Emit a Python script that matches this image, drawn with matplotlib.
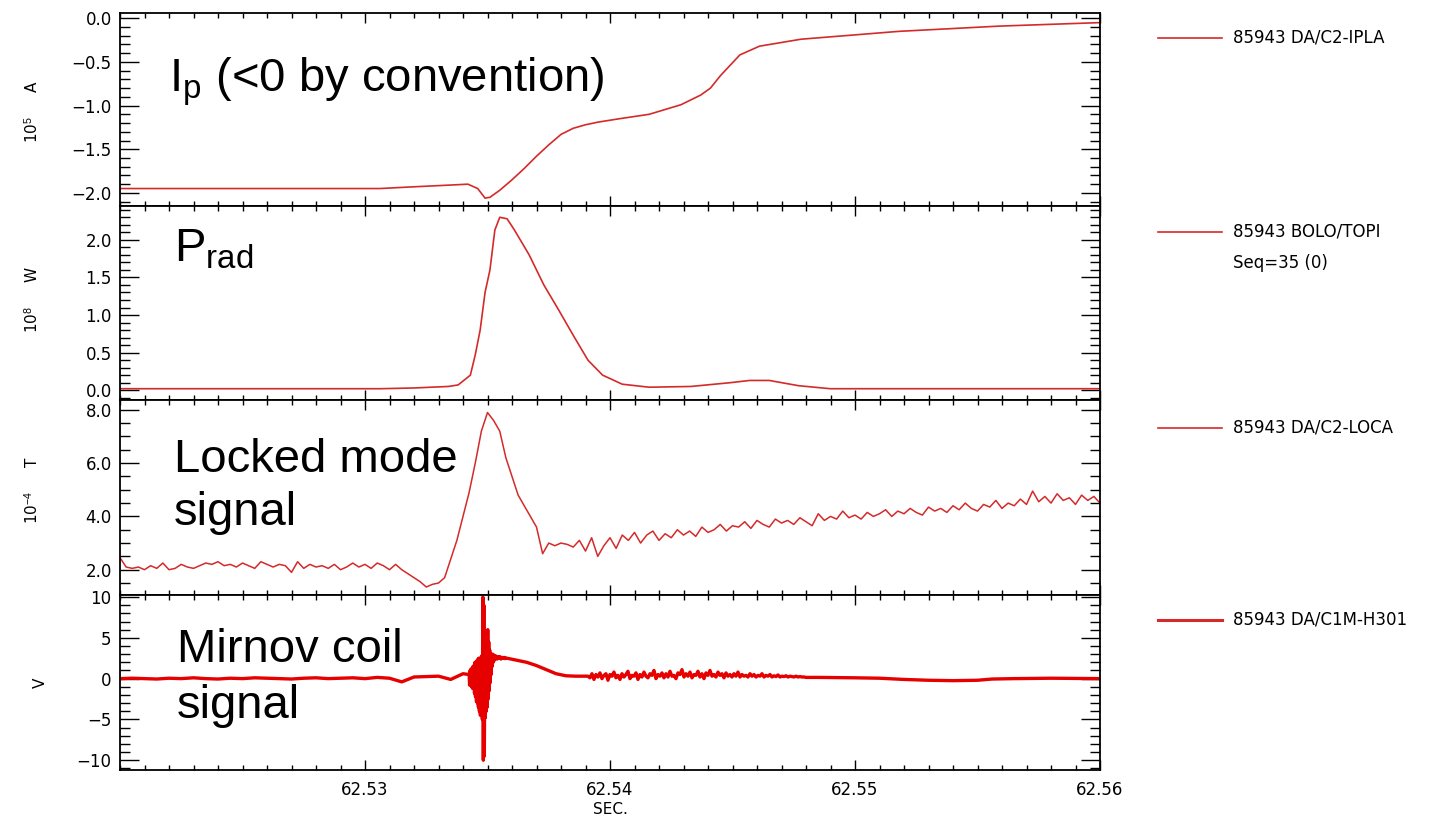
import numpy as np
import matplotlib.pyplot as plt
from matplotlib.ticker import MultipleLocator, FuncFormatter
from matplotlib.lines import Line2D

plt.rcParams['mathtext.fontset'] = 'custom'
plt.rcParams['mathtext.rm'] = 'Liberation Sans'
plt.rcParams['mathtext.it'] = 'Liberation Sans:italic'

W, H = 1435, 815

# ---- data ----
# plasma current, 10^5 A
ip_t = [62.5200, 62.5306, 62.5320, 62.5335, 62.5342, 62.5346, 62.5349, 62.5351,
        62.5355, 62.5360, 62.5365, 62.5370, 62.5375, 62.5380, 62.5385, 62.5390,
        62.5395, 62.5404, 62.5416, 62.5429, 62.5437, 62.5441, 62.5445, 62.5453,
        62.5461, 62.5478, 62.5518, 62.5559, 62.5600]
ip_v = [-1.95, -1.95, -1.93, -1.91, -1.90, -1.95, -2.06, -2.05,
        -1.97, -1.85, -1.72, -1.58, -1.45, -1.33, -1.26, -1.22,
        -1.19, -1.15, -1.10, -0.99, -0.88, -0.80, -0.66, -0.42,
        -0.32, -0.24, -0.15, -0.09, -0.05]

# radiated power, 10^8 W
prad_t = [62.5200, 62.5306, 62.5320, 62.5334, 62.5338, 62.5343, 62.5345, 62.5347,
          62.5349, 62.5351, 62.5353, 62.5355, 62.5358, 62.5361, 62.5367, 62.5373,
          62.5379, 62.5385, 62.5391, 62.5397, 62.5405, 62.5416, 62.5433, 62.5449,
          62.5457, 62.5465, 62.5477, 62.5490, 62.5600]
prad_v = [0.02, 0.02, 0.03, 0.05, 0.07, 0.2, 0.47, 0.8,
          1.3, 1.6, 2.13, 2.30, 2.28, 2.13, 1.8, 1.4,
          1.07, 0.73, 0.4, 0.2, 0.08, 0.04, 0.05, 0.1,
          0.13, 0.13, 0.06, 0.02, 0.02]

# locked mode signal, 10^-4 T (161 samples, 62.52 .. 62.56)
lm_v = [2.45, 2.1, 2.05, 2.1, 2.0, 2.15, 2.05, 2.25, 2.0, 2.05,
        2.2, 2.1, 2.05, 2.15, 2.25, 2.2, 2.3, 2.15, 2.2, 2.1,
        2.25, 2.15, 2.05, 2.3, 2.2, 2.1, 2.2, 2.15, 1.9, 2.3,
        2.05, 2.2, 2.1, 2.15, 2.05, 2.2, 2.0, 2.1, 2.25, 2.1,
        2.2, 2.05, 2.25, 2.15, 2.0, 2.2, 2.0, 1.85, 1.7, 1.55,
        1.35, 1.45, 1.5, 1.7, 2.4, 3.1, 4.0, 4.9, 6.0, 7.2,
        7.9, 7.6, 7.2, 6.2, 5.5, 4.8, 4.4, 4.0, 3.6, 2.6,
        3.0, 2.9, 3.0, 2.95, 2.85, 3.1, 2.7, 3.2, 2.5, 2.9,
        3.2, 2.8, 3.3, 3.1, 3.4, 3.0, 3.3, 3.45, 3.1, 3.35,
        3.2, 3.5, 3.3, 3.45, 3.25, 3.6, 3.4, 3.5, 3.7, 3.45,
        3.65, 3.6, 3.8, 3.55, 3.85, 3.7, 3.6, 3.9, 3.75, 3.85,
        3.7, 3.95, 3.8, 3.65, 4.1, 3.85, 4.0, 3.9, 4.2, 3.95,
        4.05, 3.9, 4.15, 4.0, 4.1, 4.25, 4.0, 4.2, 4.1, 4.3,
        4.15, 4.05, 4.35, 4.2, 4.3, 4.15, 4.4, 4.25, 4.5, 4.3,
        4.2, 4.45, 4.35, 4.6, 4.3, 4.5, 4.4, 4.65, 4.45, 4.95,
        4.55, 4.75, 4.5, 4.85, 4.6, 4.7, 4.45, 4.8, 4.6, 4.75,
        4.5]
lm_t = np.linspace(62.52, 62.56, len(lm_v))

# Mirnov coil signal, V -- pieced together from segments
mir_a = [0.0, 0.05, 0.0, -0.05, 0.05, 0.0, 0.1, 0.0, -0.05, 0.05,
         0.0, 0.1, 0.05, 0.0, -0.05, 0.05, 0.1, 0.0, 0.05, 0.1,
         0.0, 0.15, 0.05, -0.4, 0.2, 0.25, 0.3, -0.1, 0.6]
mir_b = [0.5, -0.8, 1.0, -0.6, 1.2, -1.0, 0.8, -1.2, 1.5, -1.0,
         1.6, -1.8, 2.0, -2.2, 1.8, -2.8, 2.2, -3.0, 2.4, -3.5,
         2.5, -4.0, 2.2, -4.5, 2.6, -3.8, 2.8, -5.0, 10.0, -10.0,
         9.0, -9.5, 2.5, -4.8, 3.0, -4.0, 2.8, -3.5, 6.0, -2.5,
         4.5, -1.5, 3.5, -0.5, 3.0, 0.5, 2.8, 1.5, 3.0, 2.0,
         2.9, 2.2, 2.7, 2.4, 2.8, 2.5, 2.6, 2.4, 2.7, 2.5,
         2.6, 2.5, 2.7, 2.5, 2.6, 2.4, 2.6, 2.5, 2.6, 2.5,
         2.55, 2.5, 2.6, 2.45, 2.55, 2.5]
mir_c_t = [62.5358, 62.5362, 62.5366, 62.5370, 62.5374, 62.5378, 62.5382, 62.5386, 62.5390]
mir_c = [2.5, 2.25, 2.0, 1.6, 1.1, 0.6, 0.35, 0.3, 0.3]
mir_d = [0.3, 0.1, 0.6, -0.1, 0.5, 0.2, 0.7, 0.0, 0.4, 0.6,
         -0.2, 0.5, 0.3, 0.8, 0.1, 0.4, -0.1, 0.6, 0.2, 0.5,
         0.9, 0.0, 0.4, 0.3, 0.7, -0.1, 0.5, 0.2, 0.8, 0.3,
         0.1, 0.6, 0.4, 1.0, 0.0, 0.5, 0.3, 0.7, 0.1, 0.6,
         0.2, 0.9, 0.3, 0.4, 0.0, 0.7, 0.5, 1.1, 0.2, 0.6,
         0.3, 0.8, 0.1, 0.5, 0.4, 0.9, 0.2, 0.6, 0.0, 0.7,
         0.4, 1.0, 0.3, 0.5, 0.2, 0.8, 0.4, 0.6, 0.1, 0.7,
         0.3, 0.5, 0.2, 0.6, 0.3, 0.8, 0.2, 0.5, 0.3, 0.4,
         0.2, 0.6, 0.3, 0.5, 0.2, 0.4, 0.3, 0.6, 0.2, 0.4,
         0.3, 0.5, 0.2, 0.35, 0.25, 0.45, 0.2, 0.3, 0.25, 0.35,
         0.2, 0.3, 0.25, 0.2, 0.3, 0.2, 0.25, 0.2, 0.2, 0.15]
mir_e_t = [62.5485, 62.5500, 62.5510, 62.5520, 62.5530, 62.5540, 62.5550, 62.5556,
           62.5565, 62.5580, 62.5600]
mir_e = [0.15, 0.1, 0.05, -0.1, -0.2, -0.25, -0.2, -0.05, 0.0, 0.05, 0.0]

mir_t = np.concatenate([np.linspace(62.5200, 62.5340, len(mir_a)),
                        np.linspace(62.53425, 62.53575, len(mir_b)),
                        mir_c_t,
                        np.linspace(62.5391, 62.5480, len(mir_d)),
                        mir_e_t])
mir_v = np.concatenate([mir_a, mir_b, mir_c, mir_d, mir_e])

labels = ['85943 DA/C2-IPLA', '85943 BOLO/TOPI', '85943 DA/C2-LOCA', '85943 DA/C1M-H301']
x_ticks = [62.53, 62.54, 62.55, 62.56]

# ---- figure ----
def fx(x):
    return x / W

def fy(y):
    return 1 - y / H

red = '#d42a2a'
fig = plt.figure(figsize=(14.35, 8.15), dpi=100)
panels = [(13, 206), (206, 400), (400, 595), (595, 770)]
axes = []
for top, bot in panels:
    ax = fig.add_axes([fx(120), fy(bot), (1100 - 120) / W, (bot - top) / H])
    axes.append(ax)

axes[0].plot(ip_t, ip_v, color=red, lw=1.2)
axes[1].plot(prad_t, prad_v, color=red, lw=1.2)
axes[2].plot(lm_t, lm_v, color=red, lw=1.1)
axes[3].plot(mir_t, mir_v, color='#e60000', lw=2.4)

ylims = [(-2.15, 0.06), (-0.13, 2.45), (1.05, 8.37), (-11.2, 10.25)]
ymaj = [0.5, 0.5, 2.0, 5]
ymin = [0.1, 0.1, 0.5, 1]
yfmt = ['{:.1f}', '{:.1f}', '{:.1f}', '{:.0f}']

for ax, yl, mj, mn, f in zip(axes, ylims, ymaj, ymin, yfmt):
    ax.set_xlim(62.52, 62.56)
    ax.set_ylim(*yl)
    ax.yaxis.set_major_locator(MultipleLocator(mj))
    ax.yaxis.set_minor_locator(MultipleLocator(mn))
    ax.yaxis.set_major_formatter(FuncFormatter(lambda v, p, f=f: f.format(v).replace('-', '\u2212')))
    ax.set_xticks(x_ticks)
    ax.xaxis.set_minor_locator(MultipleLocator(0.001))
    ax.tick_params(axis='y', which='major', direction='in', length=14, width=1.0,
                   left=True, right=True, labelsize=12, pad=6)
    ax.tick_params(axis='y', which='minor', direction='in', length=7, width=1.0,
                   left=True, right=True)
    ax.tick_params(axis='x', which='major', direction='in', length=7, width=1.0,
                   top=True, bottom=True, labelsize=12, pad=8)
    ax.tick_params(axis='x', which='minor', direction='in', length=3.5, width=1.0,
                   top=True, bottom=True)
    for s in ax.spines.values():
        s.set_linewidth(1.3)
    if ax is not axes[-1]:
        ax.tick_params(axis='x', labelbottom=False)

axes[-1].xaxis.set_major_formatter(FuncFormatter(lambda v, p: f'{v:.2f}'))
axes[-1].set_xlabel('SEC.', fontsize=11, labelpad=2)

# y unit labels
ylab = ['10$^{5}$     A', '10$^{8}$     W', '10$^{\u22124}$     T', 'V']
ylab_y = [112, 300, 490, 683]
ylab_x = [32, 32, 32, 40]
for t, yy, xx in zip(ylab, ylab_y, ylab_x):
    fig.text(fx(xx), fy(yy), t, rotation=90, ha='center', va='center', fontsize=11,
             family='DejaVu Sans')

# big annotations
big = dict(fontsize=34, family='Liberation Sans', color='black', va='baseline')
fig.text(fx(169), fy(92), r'I$_\mathrm{p}$ (<0 by convention)', **big)
fig.text(fx(174), fy(262), r'P$_\mathrm{rad}$', **big)
fig.text(fx(174), fy(472), 'Locked mode', **big)
fig.text(fx(174), fy(525), 'signal', **big)
fig.text(fx(177), fy(662), 'Mirnov coil', **big)
fig.text(fx(177), fy(718), 'signal', **big)

# legend entries on the right
leg_y = [38, 232, 428, 620]
leg_w = [1.2, 1.2, 1.2, 2.2]
for lab, yy, lw in zip(labels, leg_y, leg_w):
    fig.add_artist(Line2D([fx(1158), fx(1222)], [fy(yy), fy(yy)], color=red, lw=lw,
                          transform=fig.transFigure))
    fig.text(fx(1233), fy(yy), lab, fontsize=12, va='center', family='DejaVu Sans')
fig.text(fx(1233), fy(263), 'Seq=35 (0)', fontsize=12, va='center', family='DejaVu Sans')

fig.savefig('out.png', dpi=100)
